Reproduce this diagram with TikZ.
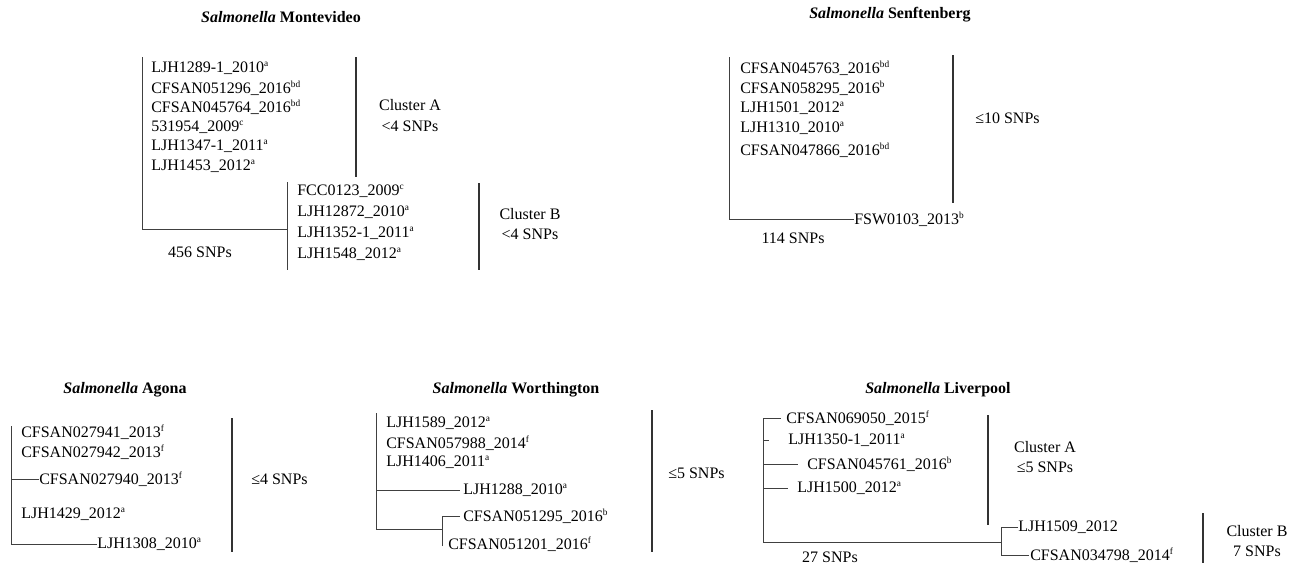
\documentclass[tikz,border=0pt]{standalone}
\usepackage{fontspec}
\setmainfont{Liberation Serif}
\usepackage{tikz}
\usetikzlibrary{positioning,calc}

\newcommand{\leaffont}{\fontsize{12}{15.5}\selectfont}
\newcommand{\sups}[1]{\raisebox{0.85ex}{\fontsize{7}{7}\selectfont #1}}

\begin{document}
\begin{tikzpicture}[
    x=0.75pt, y=-0.75pt,
    leaf/.style={anchor=west, inner sep=0pt, font=\leaffont},
    title/.style={inner sep=0pt, font=\leaffont\bfseries},
    note/.style={inner sep=0pt, align=center, font=\leaffont},
    branch/.style={line width=0.7pt, black!75},
    bracket/.style={line width=0.8pt, black!80}
]
    \useasboundingbox (0,0) rectangle (1302,565);

    % Titles
    \node[title] (t-mv) at (281,17) {\textit{Salmonella} Montevideo};
    \node[title] (t-sf) at (890,15) {\textit{Salmonella} Senftenberg};
    \node[title] (t-ag) at (125,390) {\textit{Salmonella} Agona};
    \node[title] (t-wo) at (516,390) {\textit{Salmonella} Worthington};
    \node[title] (t-lv) at (938,390) {\textit{Salmonella} Liverpool};

    % Montevideo
    \coordinate (mv-top) at (142,57);
    \coordinate (mv-root) at (142,229);
    \coordinate (mvB-top) at (287,182);
    \coordinate (mvB-bot) at (287,270);
    \node[leaf] (mv1) at (151,68) {LJH1289-1\_2010\sups{a}};
    \node[leaf] (mv2) at (151,88) {CFSAN051296\_2016\sups{bd}};
    \node[leaf] (mv3) at (151,107) {CFSAN045764\_2016\sups{bd}};
    \node[leaf] (mv4) at (151,127) {531954\_2009\sups{c}};
    \node[leaf] (mv5) at (151,146) {LJH1347-1\_2011\sups{a}};
    \node[leaf] (mv6) at (151,166) {LJH1453\_2012\sups{a}};
    \node[leaf] (mv7) at (297,191) {FCC0123\_2009\sups{c}};
    \node[leaf] (mv8) at (297,212) {LJH12872\_2010\sups{a}};
    \node[leaf] (mv9) at (297,233) {LJH1352-1\_2011\sups{a}};
    \node[leaf] (mv10) at (297,254) {LJH1548\_2012\sups{a}};
    \draw[branch] (mv-top) -- (mv-root) -- (mv-root -| mvB-top);
    \draw[branch] (mvB-top) -- (mvB-bot);
    \node[note] (mv-snp) at (200,252) {456 SNPs};
    \coordinate (mvA-brt) at (356,57);
    \coordinate (mvA-brb) at (356,177);
    \draw[bracket] (mvA-brt) -- (mvA-brb);
    \node[note] (mv-clA) at (410,115.5) {Cluster A\\<4 SNPs};
    \coordinate (mvB-brt) at (479,183);
    \coordinate (mvB-brb) at (479,270);
    \draw[bracket] (mvB-brt) -- (mvB-brb);
    \node[note] (mv-clB) at (530,224) {Cluster B\\<4 SNPs};

    % Senftenberg
    \coordinate (sf-top) at (729,57);
    \coordinate (sf-root) at (729,219);
    \node[leaf] (sf1) at (740,68) {CFSAN045763\_2016\sups{bd}};
    \node[leaf] (sf2) at (740,88) {CFSAN058295\_2016\sups{b}};
    \node[leaf] (sf3) at (740,108) {LJH1501\_2012\sups{a}};
    \node[leaf] (sf4) at (740,128) {LJH1310\_2010\sups{a}};
    \node[leaf] (sf5) at (740,150) {CFSAN047866\_2016\sups{bd}};
    \node[leaf] (sf6) at (854,219) {FSW0103\_2013\sups{b}};
    \draw[branch] (sf-top) -- (sf-root) -- (sf6.west);
    \node[note] (sf-snp) at (793,238) {114 SNPs};
    \coordinate (sf-brt) at (953,55);
    \coordinate (sf-brb) at (953,203);
    \draw[bracket] (sf-brt) -- (sf-brb);
    \node[leaf] (sf-cl) at (975,118) {≤10 SNPs};

    % Agona
    \coordinate (ag-top) at (11,426);
    \coordinate (ag-root) at (11,544);
    \node[leaf] (ag1) at (21,432) {CFSAN027941\_2013\sups{f}};
    \node[leaf] (ag2) at (21,452) {CFSAN027942\_2013\sups{f}};
    \node[leaf] (ag3) at (39,479) {CFSAN027940\_2013\sups{f}};
    \node[leaf] (ag4) at (21,514) {LJH1429\_2012\sups{a}};
    \node[leaf] (ag5) at (97,544) {LJH1308\_2010\sups{a}};
    \draw[branch] (ag-top) -- (ag-root) -- (ag5.west);
    \draw[branch] (ag-root |- ag3.west) -- (ag3.west);
    \coordinate (ag-brt) at (232,418);
    \coordinate (ag-brb) at (232,552);
    \draw[bracket] (ag-brt) -- (ag-brb);
    \node[leaf] (ag-cl) at (251,479) {≤4 SNPs};

    % Worthington
    \coordinate (wo-top) at (376,413);
    \coordinate (wo-root) at (376,529);
    \coordinate (wo-sub) at (442,529);
    \node[leaf] (wo1) at (386,423) {LJH1589\_2012\sups{a}};
    \node[leaf] (wo2) at (386,443) {CFSAN057988\_2014\sups{f}};
    \node[leaf] (wo3) at (386,462) {LJH1406\_2011\sups{a}};
    \node[leaf] (wo4) at (463,490) {LJH1288\_2010\sups{a}};
    \node[leaf] (wo5) at (463,516) {CFSAN051295\_2016\sups{b}};
    \node[leaf] (wo6) at (448,544) {CFSAN051201\_2016\sups{f}};
    \draw[branch] (wo-top) -- (wo-root) -- (wo-sub);
    \draw[branch] (wo-root |- wo4.west) -- ([xshift=-2]wo4.west);
    \draw[branch] ($(wo-sub |- wo6.west)+(0,2)$) -- (wo-sub |- wo5.west) -- ([xshift=-2]wo5.west);
    \coordinate (wo-brt) at (652,410);
    \coordinate (wo-brb) at (652,552);
    \draw[bracket] (wo-brt) -- (wo-brb);
    \node[leaf] (wo-cl) at (668,473) {≤5 SNPs};

    % Liverpool
    \coordinate (lv-top) at (763,418);
    \coordinate (lv-root) at (763,542);
    \coordinate (lv-sub) at (1001,542);
    \node[leaf] (lv1) at (786,418) {CFSAN069050\_2015\sups{f}};
    \node[leaf] (lv2) at (788,440) {LJH1350-1\_2011\sups{a}};
    \node[leaf] (lv3) at (807,464) {CFSAN045761\_2016\sups{b}};
    \node[leaf] (lv4) at (797,488) {LJH1500\_2012\sups{a}};
    \node[leaf] (lv5) at (1018,527) {LJH1509\_2012};
    \node[leaf] (lv6) at (1030,555) {CFSAN034798\_2014\sups{f}};
    \draw[branch] ([xshift=-4]lv1.west) -- (lv-top) -- (lv-root) -- (lv-sub);
    \draw[branch] (lv-root |- lv2.west) -- ([xshift=-14]lv2.west);
    \draw[branch] (lv-root |- lv3.west) -- ([xshift=-7]lv3.west);
    \draw[branch] (lv-root |- lv4.west) -- ([xshift=-7]lv4.west);
    \draw[branch] (lv5.west) -- (lv-sub |- lv5.west) -- (lv-sub |- lv6.west) -- ([xshift=-1]lv6.west);
    \node[note] (lv-snp) at (830,557) {27 SNPs};
    \coordinate (lvA-brt) at (988,415);
    \coordinate (lvA-brb) at (988,525);
    \draw[bracket] (lvA-brt) -- (lvA-brb);
    \node[note] (lv-clA) at (1045,457) {Cluster A\\≤5 SNPs};
    \coordinate (lvB-brt) at (1203,513);
    \coordinate (lvB-brb) at (1203,563);
    \draw[bracket] (lvB-brt) -- (lvB-brb);
    \node[note] (lv-clB) at (1257,541) {Cluster B\\7 SNPs};
\end{tikzpicture}
\end{document}
